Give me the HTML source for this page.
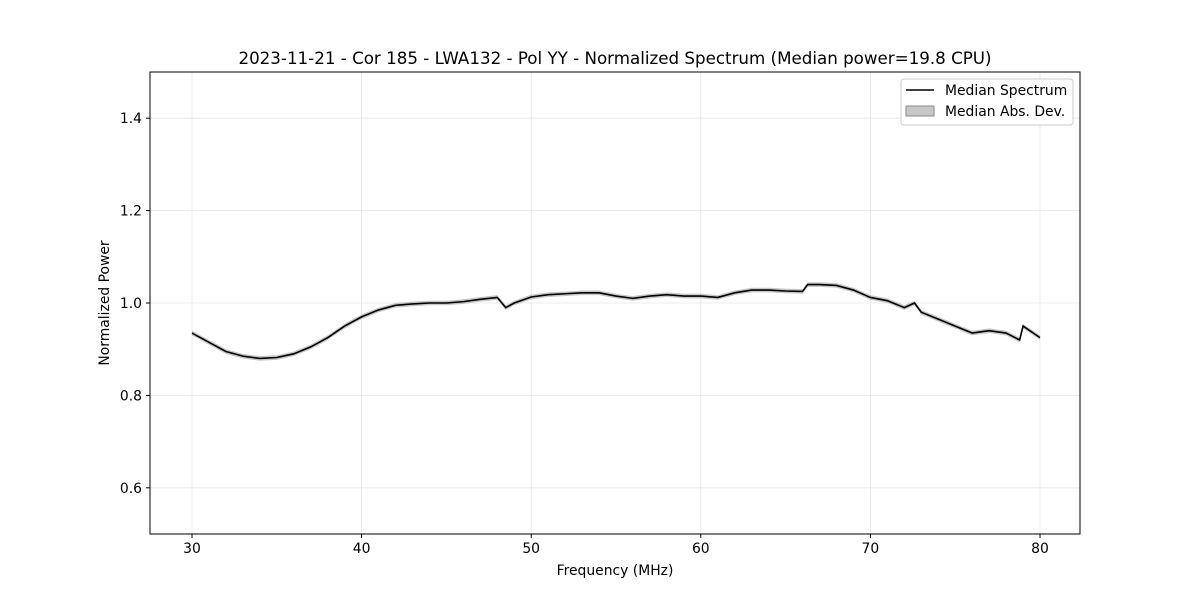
<!DOCTYPE html>
<html><head><meta charset="utf-8"><style>
body{margin:0;background:#fff;font-family:"Liberation Sans","DejaVu Sans",sans-serif}
svg text{font-family:"DejaVu Sans","Liberation Sans",sans-serif}
</style></head><body>
<svg id="c" width="1200" height="600"></svg>
<script>
const freqs=[30,31,32,33,34,35,36,37,38,39,40,41,42,43,44,45,46,47,48,48.5,49,50,51,52,53,54,55,56,57,58,59,60,61,62,63,64,65,66,66.3,67,68,69,70,71,72,72.6,73,74,75,76,77,78,78.8,79,80];
const power=[0.935,0.915,0.895,0.885,0.88,0.882,0.89,0.905,0.925,0.95,0.97,0.985,0.995,0.998,1.0,1.0,1.003,1.008,1.012,0.99,1.0,1.013,1.018,1.02,1.022,1.022,1.015,1.01,1.015,1.018,1.015,1.015,1.012,1.022,1.028,1.028,1.026,1.025,1.04,1.04,1.038,1.028,1.012,1.005,0.99,1.0,0.98,0.965,0.95,0.935,0.94,0.935,0.92,0.95,0.925];
const mad=0.005;
const xTicks=[30,40,50,60,70,80];
const yTicks=[0.6,0.8,1.0,1.2,1.4];
const L=150,R=1080,T=72,B=534;
const X=v=>192+(v-30)*(1040-192)/50;
const Y=v=>B-(v-0.5)*(B-T)/1.0;
const s=document.getElementById('c');const NS='http://www.w3.org/2000/svg';
function mk(t,a,txt){const e=document.createElementNS(NS,t);for(const k in a)e.setAttribute(k,a[k]);if(txt!==undefined)e.textContent=txt;s.appendChild(e);return e;}
xTicks.forEach(v=>{const g=mk('line',{x1:X(v),x2:X(v),y1:T,y2:B,stroke:'#e6e6e6','stroke-width':0.8});
mk('line',{x1:X(v),x2:X(v),y1:B,y2:B+4,stroke:'#000'});
const t=mk('text',{x:X(v),y:B+19,'text-anchor':'middle','font-size':13.9},String(v));});
yTicks.forEach(v=>{const g=mk('line',{x1:L,x2:R,y1:Y(v),y2:Y(v),stroke:'#e6e6e6','stroke-width':0.8});
mk('line',{x1:L-4,x2:L,y1:Y(v),y2:Y(v),stroke:'#000'});
const t=mk('text',{x:L-8,y:Y(v)+5,'text-anchor':'end','font-size':13.9},v.toFixed(1));});
let up=freqs.map((f,i)=>X(f)+','+Y(power[i]+mad)).join(' ');
let dn=freqs.map((f,i)=>X(f)+','+Y(power[i]-mad)).reverse().join(' ');
const band=mk('polygon',{points:up+' '+dn,fill:'#999','fill-opacity':0.55});

const ln=mk('polyline',{points:freqs.map((f,i)=>X(f)+','+Y(power[i])).join(' '),fill:'none',stroke:'#000','stroke-width':1.6});

const fr=mk('rect',{x:L,y:T,width:R-L,height:B-T,fill:'none',stroke:'#000','stroke-width':1});
let t=mk('text',{x:615,y:64,'text-anchor':'middle','font-size':16.7},'2023-11-21 - Cor 185 - LWA132 - Pol YY - Normalized Spectrum (Median power=19.8 CPU)');
t=mk('text',{x:615,y:575,'text-anchor':'middle','font-size':13.9},'Frequency (MHz)');
t=mk('text',{x:109,y:303,'text-anchor':'middle','font-size':13.9,transform:'rotate(-90 109 303)'},'Normalized Power');
const lg=mk('rect',{x:901,y:79,width:172,height:46,fill:'#fff',stroke:'#ccc',rx:3});
mk('line',{x1:906,x2:934,y1:90,y2:90,stroke:'#000','stroke-width':1.5});
t=mk('text',{x:945,y:95,'font-size':13.9},'Median Spectrum');
mk('rect',{x:906,y:106,width:28,height:10,fill:'#999','fill-opacity':0.55,stroke:'#888'});
t=mk('text',{x:945,y:116,'font-size':13.9},'Median Abs. Dev.');
</script></body></html>
